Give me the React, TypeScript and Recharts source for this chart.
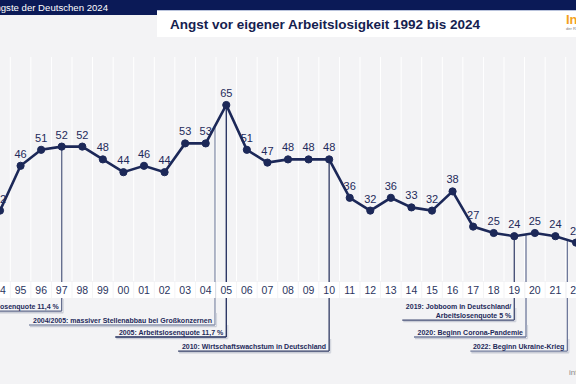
import React from 'react';
import { LineChart, Line, XAxis, YAxis, CartesianGrid, ReferenceLine, LabelList } from 'recharts';

const years = [1994, 1995, 1996, 1997, 1998, 1999, 2000, 2001, 2002, 2003, 2004, 2005, 2006, 2007, 2008, 2009, 2010, 2011, 2012, 2013, 2014, 2015, 2016, 2017, 2018, 2019, 2020, 2021, 2022];
const values = [32, 46, 51, 52, 52, 48, 44, 46, 44, 53, 53, 65, 51, 47, 48, 48, 48, 36, 32, 36, 33, 32, 38, 27, 25, 24, 25, 24, 22];
const data = years.map((year, i) => ({ year, value: values[i] }));

const gridValues = [1993.5, ...years.map((y) => y + 0.5)];

const annotX = [1997, 2004.45, 2005, 2010, 2019, 2019.57, 2021.58];
const annotFrom = [52, 58, 65, 48, 24, 24.5, 22.5];
const annotTo = [0.6, -3.75, -7.5, -11.9, -2.2, -7.5, -11.9];
const annotTexts = [
  ['1997: Arbeitslosenquote 11,4 %'],
  ['2004/2005: massiver Stellenabbau bei Großkonzernen'],
  ['2005: Arbeitslosenquote 11,7 %'],
  ['2010: Wirtschaftswachstum in Deutschland'],
  ['2019: Jobboom in Deutschland/', 'Arbeitslosenquote 5 %'],
  ['2020: Beginn Corona-Pandemie'],
  ['2022: Beginn Ukraine-Krieg'],
];
const annotWidths = [107, 182, 107, 147, 108, 108, 93];
const annotColors = ['#5c6688', '#8a93ad', '#1e2a5a', '#2e3862', '#3e4870', '#6e789a', '#6e789a'];

const FONT = '"Liberation Sans", Arial, sans-serif';
const NAVY = '#1c2858';

const makeLabel = (i: number) => (props: any) => {
  const vb = props.viewBox || {};
  const x = vb.x;
  const bottom = vb.y + vb.height;
  const lines = annotTexts[i];
  const w = annotWidths[i];
  const c = annotColors[i];
  return (
    <g>
      <line x1={x - w - 3} y1={bottom + 1.6} x2={x + 1.5} y2={bottom + 1.6} stroke="#c9ccd6" strokeWidth={1.4} />
      <line x1={x + 1.5} y1={bottom - 12} x2={x + 1.5} y2={bottom + 1.6} stroke="#d3d6de" strokeWidth={1.2} />
      <line x1={x - w - 4} y1={bottom} x2={x} y2={bottom} stroke={c} strokeWidth={1.3} />
      {lines.map((t, k) => (
        <text
          key={k}
          x={x - 3}
          y={bottom - 2.5 - (lines.length - 1 - k) * 9}
          textAnchor="end"
          fontSize={7}
          fontWeight="bold"
          fontFamily={FONT}
          fill="#1e2a5a"
        >
          {t}
        </text>
      ))}
    </g>
  );
};

const Tick = (props: any) => {
  const { x, y, payload } = props;
  const lbl = String(payload.value % 100).padStart(2, '0');
  return (
    <g>
      <rect x={x - 9.8} y={y + 1} width={19.6} height={16} fill="#ffffff" />
      <text x={x} y={y + 13} textAnchor="middle" fontSize={10.5} fontFamily={FONT} fill="#2b3560">
        {lbl}
      </text>
    </g>
  );
};

export default function App() {
  return (
    <div
      style={{
        position: 'fixed',
        left: 0,
        top: 0,
        width: 576,
        height: 384,
        overflow: 'hidden',
        background: '#f3f3f5',
        fontFamily: FONT,
      }}
    >
      <div style={{ position: 'absolute', left: 0, top: 0 }}>
        <LineChart width={576} height={384} data={data} margin={{ top: 57, right: 0, bottom: 83, left: 0 }}>
          <CartesianGrid horizontal={false} verticalValues={gridValues} stroke="#ffffff" strokeWidth={1} />
          <XAxis
            dataKey="year"
            type="number"
            domain={[1994, 2022]}
            allowDataOverflow
            ticks={years}
            interval={0}
            tick={<Tick />}
            tickLine={false}
            axisLine={false}
            tickSize={0}
            tickMargin={0}
            height={20}
          />
          <YAxis hide domain={[10, 80]} type="number" />
          {annotX.map((ax, i) => (
            <ReferenceLine
              key={i}
              segment={[
                { x: ax, y: annotFrom[i] },
                { x: ax, y: annotTo[i] },
              ]}
              ifOverflow="visible"
              stroke={annotColors[i]}
              strokeWidth={1.3}
              label={makeLabel(i)}
            />
          ))}
          <Line
            type="linear"
            dataKey="value"
            stroke={NAVY}
            strokeWidth={2.6}
            dot={{ r: 3.6, fill: NAVY, stroke: NAVY, strokeWidth: 1 }}
            isAnimationActive={false}
          >
            <LabelList dataKey="value" position="top" offset={8} fontSize={11} fontFamily={FONT} fill="#1e2a5a" />
          </Line>
        </LineChart>
      </div>
      <svg width={576} height={384} style={{ position: 'absolute', left: 0, top: 0, pointerEvents: 'none' }}>
        <rect x={0} y={0} width={576} height={15} fill="#0b1a57" />
        <rect x={157} y={10} width={419} height={27} fill="#ffffff" />
        <line x1={157} y1={10.5} x2={576} y2={10.5} stroke="#b9c3dc" strokeWidth={1} />
        <text x={108} y={11} textAnchor="end" fontSize={9.6} fill="#ffffff" fontFamily={FONT}>
          Die größten Ängste der Deutschen 2024
        </text>
        <text x={170} y={29} fontSize={13.5} fontWeight="bold" fill="#15214f" fontFamily={FONT}>
          Angst vor eigener Arbeitslosigkeit 1992 bis 2024
        </text>
        <text x={566} y={24} fontSize={13} fontWeight="bold" fill="#f4a21e" fontFamily={FONT}>
          Infocenter
        </text>
        <text x={566} y={30} fontSize={4} fill="#777777" fontFamily={FONT}>
          der R+V Versicherung
        </text>
        <text x={569} y={375} fontSize={8} fill="#8a8a8a" fontFamily={FONT}>
          infocenter
        </text>
      </svg>
    </div>
  );
}
